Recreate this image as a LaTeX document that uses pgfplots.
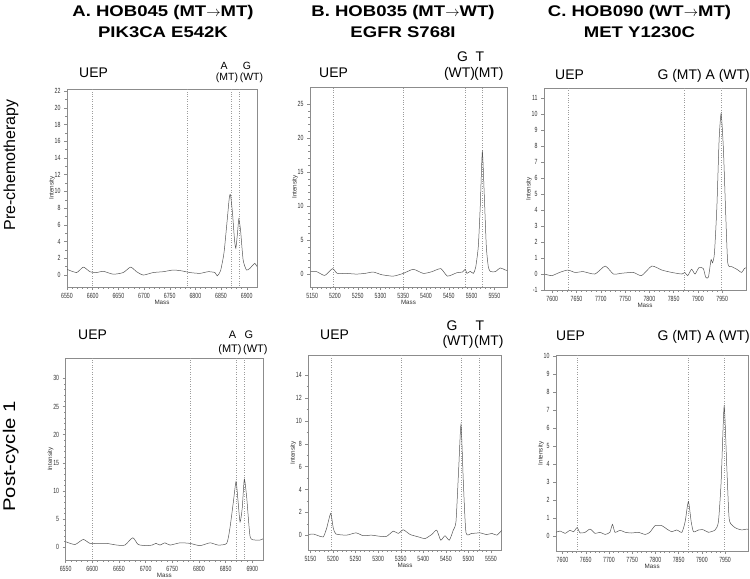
\documentclass[border=0pt]{standalone}
\usepackage{fontspec}
\setmainfont{Liberation Sans}
\newfontfamily\titlefont[FakeStretch=1.2]{Liberation Sans}
\newfontfamily\tickfont[FakeStretch=0.7]{Liberation Sans}
\usepackage{pgfplots}
\pgfplotsset{compat=1.18}

\definecolor{tracecol}{HTML}{555555}
\definecolor{framecol}{HTML}{8C8C8C}
\definecolor{guidecol}{HTML}{9C9C9C}

\pgfplotsset{
  spec/.style={
    scale only axis, anchor=south west,
    axis line style={draw=framecol, line width=0.9pt},
    tick pos=left, tick align=outside,
    major tick length=3bp, minor tick length=1.6bp,
    every tick/.style={draw=framecol, line width=0.4pt},
    minor x tick num=4,
    tick label style={font=\tickfont\fontsize{7.5}{8}\selectfont, text=black!80},
    /pgf/number format/assume math mode=true,
    /pgf/number format/1000 sep={},
    xlabel=Mass, ylabel=Intensity,
    label style={font=\fontsize{6.3}{7}\selectfont, text=black!80},
    xlabel shift=-5bp, ylabel shift=-7bp,
  },
  spectrum/.style={tracecol, line width=0.5pt, smooth, tension=0.35, mark=none},
  peakline/.style={guidecol, dotted, line width=0.4pt, mark=none},
}

\begin{document}
\begin{tikzpicture}
\path[use as bounding box] (0,0) rectangle (750bp,-579bp);

% ---------- row 1 ----------
\begin{axis}[spec, at={(67bp,-287bp)}, width=190bp, height=198bp,
  xmin=6550, xmax=6920, ymin=-1.43, ymax=22.24,
  xtick={6550,6600,...,6900}, ytick={0,2,...,22}, minor y tick num=1]
\addplot[peakline] coordinates {(6600,-5) (6600,40)};
\addplot[peakline] coordinates {(6784,-5) (6784,40)};
\addplot[peakline] coordinates {(6870,-5) (6870,40)};
\addplot[peakline] coordinates {(6885,-5) (6885,40)};
\addplot[spectrum] coordinates {
(6550,0.68) (6568.8,0.3) (6581.8,0.95) (6594.7,0.4) (6607.7,0.3) (6620.7,0.45)
(6640.1,0.1) (6659.6,0.3) (6673.9,0.95) (6685.5,0.4) (6698.5,0.0) (6718,0.3)
(6737.4,0.4) (6756.9,0.6) (6773.1,0.5) (6789.3,0.3) (6808.8,0.2) (6825,0.4)
(6838,0.3) (6842.5,-0.1) (6849,0.5) (6855.6,2.6) (6860.8,5.8) (6866,9.2)
(6868.4,9.6) (6872.3,7.4) (6876.2,4.2) (6878.8,3.2) (6882,5.0) (6884.6,6.7)
(6887.9,5.4) (6893,1.8) (6899.5,0.6) (6906,0.8) (6915.8,1.4) (6920.3,1.0) (6925,1.4)};
\end{axis}

\begin{axis}[spec, at={(310bp,-287bp)}, width=197bp, height=200bp,
  xmin=5145.1, xmax=5577.8, ymin=-1.9, ymax=27.5,
  xtick={5150,5200,...,5550}, ytick={0,5,...,25}, minor y tick num=4]
\addplot[peakline] coordinates {(5195,-5) (5195,40)};
\addplot[peakline] coordinates {(5350,-5) (5350,40)};
\addplot[peakline] coordinates {(5485,-5) (5485,40)};
\addplot[peakline] coordinates {(5524,-5) (5524,40)};
\addplot[spectrum] coordinates {
(5146.7,0.35) (5160,0.35) (5177.5,-0.2) (5194.5,0.8) (5205,0.1) (5225,0.1)
(5247,0.0) (5265.7,0.1) (5284,0.3) (5303,-0.1) (5328,-0.3) (5350,0.1)
(5372,0.7) (5394,0.1) (5412.7,0.35) (5432.5,0.8) (5447,-0.3) (5467.7,0.2)
(5480,0.3) (5486,0.7) (5490,0.1) (5497,0.4) (5504,0.1) (5509,1.0)
(5514.7,4) (5519,9.9) (5523.6,18) (5528,11.4) (5532.4,4) (5536.7,1.1)
(5541,0.4) (5552,0.35) (5563,0.9) (5574,0.6) (5580,0.5)};
\end{axis}

\begin{axis}[spec, at={(544bp,-290bp)}, width=202bp, height=202bp,
  xmin=7583, xmax=7999, ymin=-1, ymax=11.65,
  xtick={7600,7650,...,7950}, ytick={-1,0,...,11}]
\addplot[peakline] coordinates {(7632,-5) (7632,40)};
\addplot[peakline] coordinates {(7871,-5) (7871,40)};
\addplot[peakline] coordinates {(7948,-5) (7948,40)};
\addplot[spectrum] coordinates {
(7583.7,0) (7599,-0.1) (7615,0.1) (7632,0.25) (7647,0.1) (7664,0.15) (7688,0)
(7709,0.5) (7726,0) (7743,0.05) (7767,0.1) (7784,-0.1) (7805,0.5) (7825.6,0.25)
(7846,0.1) (7867,0) (7873,0.1) (7879,-0.1) (7887,0.3) (7894,0) (7902,0.4)
(7911,0.35) (7916,-0.2) (7921.6,-0.2) (7927,0.9) (7930,0.7) (7934,1.3)
(7939,4.2) (7943.6,8.4) (7947.8,10.06) (7952.5,7.8) (7957.4,3.6) (7961.5,0.67)
(7969.8,0.46) (7980,0.3) (7990,0.1) (7995.7,0.35) (8000,0.4)};
\end{axis}

% ---------- row 2 ----------
\begin{axis}[spec, at={(65.6bp,-560bp)}, width=197.4bp, height=201.7bp,
  xmin=6550, xmax=6920, ymin=-2.25, ymax=33.55,
  xtick={6550,6600,...,6900}, ytick={0,5,...,30}, minor y tick num=4]
\addplot[peakline] coordinates {(6600,-5) (6600,40)};
\addplot[peakline] coordinates {(6784,-5) (6784,40)};
\addplot[peakline] coordinates {(6870,-5) (6870,40)};
\addplot[peakline] coordinates {(6885,-5) (6885,40)};
\addplot[spectrum] coordinates {
(6550,1.0) (6567.6,0.5) (6583,1.4) (6595.7,0.7) (6611,0.7) (6627,0.7)
(6646,0.4) (6661,0.4) (6676,1.7) (6686,0.5) (6702,0.3) (6712,0.4)
(6719.5,0.7) (6727,0.4) (6736,0.8) (6745.8,0.4) (6764.5,0.8) (6783,0.7)
(6802,0.3) (6820.8,0.8) (6836,0.4) (6852,0.7) (6858,3.4) (6864.5,8.1)
(6869.5,11.7) (6873.3,8.1) (6877,4.5) (6881,6.9) (6885,12.1) (6889.6,8.7)
(6895.8,1.9) (6905,1.3) (6914.5,1.3) (6920,1.5)};
\end{axis}

\begin{axis}[spec, at={(308.3bp,-550bp)}, width=193.4bp, height=194.3bp,
  xmin=5145.4, xmax=5573.6, ymin=-1.3, ymax=15.7,
  xtick={5150,5200,...,5550}, ytick={0,2,...,14}, minor y tick num=1]
\addplot[peakline] coordinates {(5195,-5) (5195,40)};
\addplot[peakline] coordinates {(5350,-5) (5350,40)};
\addplot[peakline] coordinates {(5485,-5) (5485,40)};
\addplot[peakline] coordinates {(5524,-5) (5524,40)};
\addplot[spectrum] coordinates {
(5147,0.06) (5156.5,0.1) (5167.5,-0.05) (5178.6,-0.15) (5186,0.6) (5195,1.9)
(5200.8,0.6) (5206.7,0.1) (5230,0) (5251,0.2) (5267,-0.05) (5285,0)
(5304,-0.1) (5319,-0.1) (5333.6,0.35) (5344.7,0.15) (5355.7,0.47) (5370.6,0.06)
(5389,-0.15) (5403.8,-0.3) (5418.6,0.06) (5429.7,0.44) (5438.5,-0.44) (5448,-0.05)
(5457.6,-0.44) (5466.4,0.44) (5472.4,1.2) (5478.4,5.85) (5483.5,9.7) (5488.6,4.7)
(5494.5,0.23) (5507,0.15) (5525.5,0.2) (5540,0.05) (5552,0.15) (5563,0) (5574,0.44)};
\end{axis}

\begin{axis}[spec, at={(556bp,-551bp)}, width=192.3bp, height=195.3bp,
  xmin=7586, xmax=8000, ymin=-0.85, ymax=10,
  xtick={7600,7650,...,7950}, ytick={0,1,...,10}]
\addplot[peakline] coordinates {(7632,-5) (7632,40)};
\addplot[peakline] coordinates {(7871,-5) (7871,40)};
\addplot[peakline] coordinates {(7948,-5) (7948,40)};
\addplot[spectrum] coordinates {
(7586,0.19) (7595,0.26) (7605.6,0.13) (7616,0.3) (7624,0.22) (7631.4,0.45)
(7638,0.15) (7648.7,0.19) (7659.4,0.37) (7670,0.13) (7681,0.19) (7691.7,0.07)
(7702,0.19) (7707.5,0.63) (7713,0.19) (7724,0.3) (7735,0.19) (7749,0.15)
(7763,0.19) (7778,0.07) (7788,0.19) (7799.4,0.56) (7813.8,0.56) (7824.6,0.37)
(7835,0.22) (7846,0.32) (7857,0.19) (7864,0.78) (7871,1.9) (7877,0.78)
(7882,0.22) (7893,0.32) (7903.4,0.33) (7914,0.19) (7928.6,0.32) (7935.7,0.78)
(7941.5,3.0) (7948,7.2) (7953.8,3.75) (7958.7,0.96) (7966,0.56) (7975,0.4)
(7986,0.32) (7996.8,0.37) (8000,0.35)};
\end{axis}

% ---------- titles ----------
\begin{scope}[every node/.style={inner sep=0pt, anchor=base}]
\node at (163bp,-16.7bp) {\titlefont\bfseries\fontsize{15.5}{18}\selectfont A. HOB045 (MT$\rightarrow$MT)};
\node at (163bp,-37.3bp) {\titlefont\bfseries\fontsize{15.5}{18}\selectfont PIK3CA E542K};
\node at (403bp,-16.7bp) {\titlefont\bfseries\fontsize{15.5}{18}\selectfont B. HOB035 (MT$\rightarrow$WT)};
\node at (403bp,-37.3bp) {\titlefont\bfseries\fontsize{15.5}{18}\selectfont EGFR S768I};
\node at (639.5bp,-16.7bp) {\titlefont\bfseries\fontsize{15.5}{18}\selectfont C. HOB090 (WT$\rightarrow$MT)};
\node at (639.5bp,-37.3bp) {\titlefont\bfseries\fontsize{15.5}{18}\selectfont MET Y1230C};

\node[rotate=90] at (15bp,-165bp) {\fontsize{16}{18}\selectfont Pre-chemotherapy};
\node[rotate=90] at (15bp,-456.5bp) {\titlefont\fontsize{17}{19}\selectfont Post-cycle 1};

% peak labels, row 1
\node[anchor=base west] at (79bp,-77.3bp) {\fontsize{14}{16}\selectfont UEP};
\node at (224bp,-69.2bp) {\fontsize{10.5}{12}\selectfont A};
\node at (227bp,-80bp) {\fontsize{10.5}{12}\selectfont (MT)};
\node at (247bp,-69.2bp) {\fontsize{10.5}{12}\selectfont G};
\node at (251.5bp,-80bp) {\fontsize{10.5}{12}\selectfont (WT)};

\node[anchor=base west] at (319bp,-77.3bp) {\fontsize{14}{16}\selectfont UEP};
\node at (462.5bp,-61.7bp) {\fontsize{14}{16}\selectfont G};
\node at (480bp,-61.7bp) {\fontsize{14}{16}\selectfont T};
\node at (459.5bp,-77bp) {\fontsize{14}{16}\selectfont (WT)};
\node[anchor=base west] at (474bp,-77bp) {\fontsize{14}{16}\selectfont (MT)};

\node[anchor=base west] at (555bp,-79bp) {\fontsize{14}{16}\selectfont UEP};
\node[anchor=base east] at (750bp,-79bp) {\fontsize{14}{16}\selectfont G (MT) A (WT)};

% peak labels, row 2
\node[anchor=base west] at (78bp,-339bp) {\fontsize{14}{16}\selectfont UEP};
\node at (232.5bp,-338bp) {\fontsize{11}{13}\selectfont A};
\node at (249bp,-338bp) {\fontsize{11}{13}\selectfont G};
\node at (230bp,-352.7bp) {\fontsize{11}{13}\selectfont (MT)};
\node[anchor=base west] at (243bp,-352.7bp) {\fontsize{11}{13}\selectfont (WT)};

\node[anchor=base west] at (320bp,-339bp) {\fontsize{14}{16}\selectfont UEP};
\node at (452bp,-330bp) {\fontsize{14}{16}\selectfont G};
\node at (480bp,-330bp) {\fontsize{14}{16}\selectfont T};
\node at (458bp,-345.4bp) {\fontsize{14}{16}\selectfont (WT)};
\node[anchor=base west] at (474bp,-345.4bp) {\fontsize{14}{16}\selectfont (MT)};

\node[anchor=base west] at (556bp,-340bp) {\fontsize{14}{16}\selectfont UEP};
\node[anchor=base east] at (750bp,-340bp) {\fontsize{14}{16}\selectfont G (MT) A (WT)};
\end{scope}
\end{tikzpicture}
\end{document}
